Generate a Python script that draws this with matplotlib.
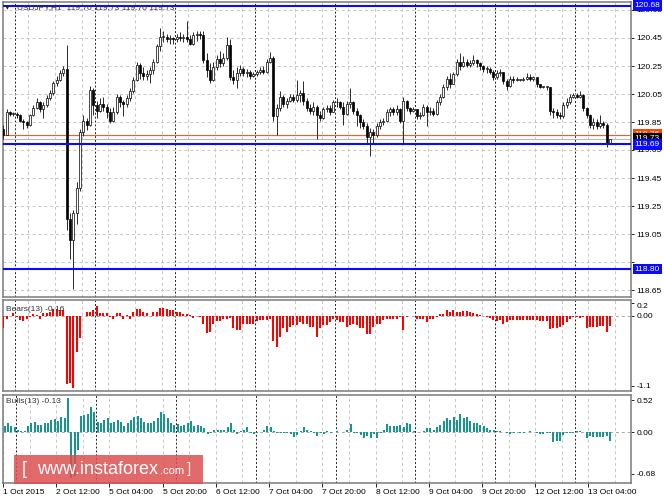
import numpy as np
import matplotlib
matplotlib.use("Agg")
import matplotlib.pyplot as plt
from matplotlib.patches import Rectangle
from matplotlib.transforms import blended_transform_factory

plt.rcParams.update({"font.family": ["Liberation Sans", "DejaVu Sans"], "font.size": 6,
                     "axes.linewidth": 1.1, "axes.edgecolor": "#7a7a7a"})

# ---- data (USDJPY H1, bar 0 = 2 Oct 00:00) ---------------------------------
FIRST_BAR = -4
FIRST_OPEN = 119.80
CLOSE = [119.76, 119.92, 119.91, 119.91, 119.90, 119.86, 119.85, 119.83, 119.90, 119.95,
         119.99, 119.94, 119.97, 120.02, 120.06, 120.13, 120.15, 120.20, 120.23, 119.16,
         119.01, 119.20, 119.38, 119.78, 119.86, 119.83, 120.08, 119.97, 119.93, 119.98,
         119.96, 119.92, 119.86, 119.92, 120.03, 119.99, 119.98, 120.02, 120.07, 120.15,
         120.26, 120.20, 120.18, 120.19, 120.22, 120.28, 120.39, 120.46, 120.46, 120.44,
         120.45, 120.44, 120.46, 120.45, 120.46, 120.44, 120.41, 120.47, 120.48, 120.47,
         120.29, 120.22, 120.15, 120.24, 120.30, 120.27, 120.31, 120.40, 120.17, 120.15,
         120.20, 120.23, 120.20, 120.21, 120.18, 120.19, 120.21, 120.22, 120.21, 120.28,
         120.31, 119.89, 119.95, 120.03, 119.98, 120.00, 120.03, 120.01, 120.04, 120.06,
         120.00, 119.95, 119.93, 119.96, 119.90, 119.88, 119.94, 119.95, 119.92, 119.99,
         119.99, 119.96, 119.91, 119.98, 119.99, 119.93, 119.90, 119.85, 119.82, 119.74,
         119.78, 119.76, 119.82, 119.85, 119.86, 119.92, 119.94, 119.92, 119.94, 119.86,
         120.00, 119.95, 119.93, 119.94, 119.89, 119.90, 119.96, 119.92, 119.93, 119.91,
         119.99, 120.03, 120.10, 120.16, 120.12, 120.19, 120.28, 120.25, 120.28, 120.26,
         120.27, 120.29, 120.27, 120.25, 120.23, 120.23, 120.21, 120.17, 120.20, 120.21,
         120.14, 120.11, 120.16, 120.15, 120.15, 120.15, 120.16, 120.17, 120.16, 120.17,
         120.12, 120.10, 120.10, 120.10, 119.93, 119.92, 119.90, 119.89, 119.97, 119.99,
         120.03, 120.04, 120.03, 120.04, 119.95, 119.90, 119.83, 119.85, 119.82, 119.84,
         119.83, 119.70, 119.73]
HIGH = [119.83, 119.94, 119.93, 119.92, 119.92, 119.91, 119.87, 119.86, 119.91, 119.97,
        120.02, 120.00, 119.99, 120.04, 120.08, 120.14, 120.18, 120.22, 120.25, 120.40,
        119.20, 119.22, 119.42, 119.80, 119.90, 119.88, 120.11, 120.09, 120.00, 120.02,
        120.03, 119.98, 119.95, 119.96, 120.05, 120.04, 120.01, 120.04, 120.09, 120.17,
        120.28, 120.27, 120.24, 120.22, 120.24, 120.30, 120.41, 120.52, 120.50, 120.48,
        120.47, 120.46, 120.48, 120.49, 120.48, 120.57, 120.47, 120.49, 120.50, 120.50,
        120.50, 120.34, 120.27, 120.28, 120.33, 120.36, 120.34, 120.46, 120.44, 120.22,
        120.24, 120.26, 120.24, 120.23, 120.22, 120.21, 120.22, 120.24, 120.25, 120.30,
        120.35, 120.32, 119.98, 120.07, 120.04, 120.02, 120.05, 120.05, 120.15, 120.08,
        120.14, 120.02, 119.98, 119.99, 119.97, 119.93, 119.96, 119.97, 119.97, 120.01,
        120.02, 120.00, 119.99, 120.00, 120.09, 120.00, 119.95, 119.91, 119.87, 119.84,
        119.81, 119.80, 119.84, 119.87, 119.88, 119.94, 119.96, 119.96, 119.97, 119.95,
        120.03, 120.01, 119.96, 119.96, 119.94, 119.92, 119.98, 119.97, 119.96, 119.95,
        120.01, 120.05, 120.12, 120.18, 120.20, 120.21, 120.30, 120.34, 120.32, 120.30,
        120.29, 120.33, 120.30, 120.28, 120.26, 120.25, 120.24, 120.22, 120.22, 120.23,
        120.21, 120.16, 120.18, 120.18, 120.17, 120.16, 120.17, 120.20, 120.19, 120.18,
        120.17, 120.12, 120.11, 120.11, 120.10, 119.95, 119.94, 119.92, 119.99, 120.02,
        120.05, 120.06, 120.06, 120.07, 120.05, 119.96, 119.91, 119.88, 119.87, 119.90,
        119.86, 119.84, 119.73]
LOW = [119.73, 119.76, 119.89, 119.89, 119.88, 119.85, 119.80, 119.81, 119.82, 119.89,
       119.94, 119.92, 119.88, 119.96, 120.01, 120.04, 120.11, 120.14, 120.18, 119.08,
       118.87, 118.66, 119.12, 119.36, 119.75, 119.79, 119.82, 119.90, 119.88, 119.92,
       119.93, 119.88, 119.84, 119.85, 119.91, 119.96, 119.89, 119.96, 120.00, 120.06,
       120.14, 120.16, 120.15, 120.15, 120.13, 120.19, 120.27, 120.36, 120.42, 120.42,
       120.41, 120.41, 120.42, 120.43, 120.42, 120.42, 120.40, 120.40, 120.43, 120.44,
       120.27, 120.17, 120.13, 120.14, 120.22, 120.24, 120.25, 120.29, 120.15, 120.12,
       120.09, 120.18, 120.18, 120.17, 120.16, 120.17, 120.18, 120.19, 120.19, 120.20,
       120.27, 119.86, 119.76, 119.93, 119.96, 119.95, 119.99, 119.99, 119.99, 119.99,
       119.97, 119.93, 119.91, 119.90, 119.73, 119.86, 119.87, 119.92, 119.90, 119.92,
       119.96, 119.94, 119.83, 119.90, 119.95, 119.91, 119.82, 119.81, 119.80, 119.69,
       119.61, 119.70, 119.74, 119.80, 119.83, 119.85, 119.89, 119.90, 119.90, 119.84,
       119.69, 119.93, 119.91, 119.92, 119.87, 119.87, 119.89, 119.82, 119.90, 119.89,
       119.90, 119.97, 120.02, 120.08, 120.09, 120.12, 120.18, 120.22, 120.24, 120.24,
       120.24, 120.26, 120.24, 120.22, 120.21, 120.20, 120.19, 120.15, 120.16, 120.18,
       120.12, 120.08, 120.10, 120.13, 120.14, 120.14, 120.14, 120.15, 120.14, 120.14,
       120.10, 120.09, 120.09, 120.08, 119.90, 119.88, 119.88, 119.87, 119.88, 119.95,
       119.98, 120.02, 120.02, 120.02, 119.93, 119.88, 119.81, 119.80, 119.80, 119.81,
       119.81, 119.67, 119.70]

BEARS = [-0.19, -0.04, 0.00, 0.04, -0.01, -0.06, -0.08, -0.04, -0.01, 0.03,
         0.02, -0.04, 0.04, 0.05, 0.06, 0.11, 0.11, 0.10, 0.09, -1.07,
         -1.06, -1.13, -0.56, -0.35, 0.00, 0.07, 0.07, 0.09, 0.15, 0.04,
         0.04, 0.04, -0.01, -0.04, 0.04, 0.04, -0.05, 0.02, -0.04, 0.07,
         0.11, 0.11, 0.07, 0.04, 0.00, 0.07, 0.07, 0.13, 0.13, 0.11,
         0.09, 0.09, 0.07, 0.07, 0.03, 0.03, 0.02, -0.03, 0.00, -0.01,
         -0.12, -0.27, -0.25, -0.13, -0.08, -0.08, -0.05, -0.05, -0.03, -0.19,
         -0.22, -0.22, -0.12, -0.12, -0.12, -0.12, -0.08, -0.06, -0.06, -0.06,
         -0.04, -0.40, -0.48, -0.33, -0.19, -0.25, -0.17, -0.14, -0.14, -0.09,
         -0.12, -0.12, -0.17, -0.17, -0.33, -0.19, -0.14, -0.14, -0.09, -0.04,
         -0.06, -0.09, -0.09, -0.17, -0.14, -0.12, -0.14, -0.19, -0.19, -0.29,
         -0.29, -0.17, -0.12, -0.12, -0.06, -0.04, -0.04, -0.04, -0.04, -0.01,
         -0.22, -0.01, 0.00, 0.00, -0.05, -0.05, -0.04, -0.09, -0.04, -0.05,
         -0.01, 0.03, 0.03, 0.09, 0.07, 0.09, 0.07, 0.07, 0.08, 0.08,
         0.07, 0.04, 0.03, 0.02, 0.00, -0.01, -0.03, -0.06, -0.08, -0.06,
         -0.13, -0.09, -0.06, -0.06, -0.06, -0.06, -0.06, -0.06, -0.06, -0.06,
         -0.06, -0.08, -0.08, -0.08, -0.21, -0.19, -0.19, -0.17, -0.14, -0.09,
         -0.05, -0.01, -0.01, -0.03, -0.01, -0.19, -0.18, -0.17, -0.17, -0.15,
         -0.15, -0.25, -0.16]
BULLS = [0.10, 0.14, 0.09, 0.08, 0.04, 0.02, 0.01, 0.10, 0.14, 0.17,
         0.11, 0.11, 0.14, 0.14, 0.20, 0.21, 0.18, 0.24, 0.22, 0.55,
         -0.74, -0.72, -0.29, 0.26, 0.28, 0.30, 0.40, 0.33, 0.17, 0.14,
         0.20, 0.22, 0.14, 0.17, 0.20, 0.17, 0.09, 0.14, 0.20, 0.24,
         0.26, 0.22, 0.17, 0.14, 0.15, 0.18, 0.22, 0.33, 0.30, 0.22,
         0.14, 0.11, 0.13, 0.10, 0.11, 0.14, 0.18, 0.09, 0.11, 0.10,
         0.06, -0.03, -0.01, 0.03, 0.04, 0.03, 0.03, 0.08, 0.14, 0.04,
         -0.03, 0.01, 0.04, 0.08, -0.01, -0.03, -0.01, 0.00, 0.04, 0.09,
         0.08, 0.01, -0.01, -0.01, -0.01, -0.01, -0.03, -0.08, -0.05, 0.01,
         0.08, 0.04, 0.01, -0.01, -0.06, -0.02, -0.03, 0.01, -0.01, 0.00,
         0.01, 0.005, 0.005, 0.03, 0.13, -0.01, -0.02, -0.05, -0.09, -0.065,
         -0.09, -0.03, -0.10, -0.01, 0.03, 0.13, 0.10, 0.10, 0.09, 0.11,
         0.08, 0.14, 0.13, 0.01, 0.00, 0.005, 0.02, 0.06, 0.06, 0.04,
         0.08, 0.11, 0.18, 0.22, 0.20, 0.24, 0.20, 0.29, 0.22, 0.24,
         0.18, 0.15, 0.14, 0.11, 0.09, 0.06, 0.04, 0.03, 0.02, 0.01,
         0.00, -0.02, -0.04, -0.01, 0.005, -0.01, -0.01, 0.00, 0.02, 0.00,
         -0.01, -0.03, -0.03, -0.02, -0.02, -0.16, -0.14, -0.14, -0.05, -0.02,
         -0.01, -0.01, 0.02, 0.02, 0.00, -0.09, -0.07, -0.08, -0.08, -0.08,
         -0.08, -0.07, -0.15]

TIME_LABELS = ["1 Oct 2015", "2 Oct 12:00", "5 Oct 04:00", "5 Oct 20:00", "6 Oct 12:00",
               "7 Oct 04:00", "7 Oct 20:00", "8 Oct 12:00", "9 Oct 04:00", "9 Oct 20:00",
               "12 Oct 12:00", "13 Oct 04:00"]
LABEL_BARS = [-4, 12, 28, 44, 60, 76, 92, 108, 124, 140, 156, 172]
DAY_START_BARS = [0, 24, 48, 72, 96, 120, 144, 168]
PRICE_TICKS = [118.65, 118.85, 119.05, 119.25, 119.45, 119.65, 119.85, 120.05, 120.25, 120.45, 120.65]
HIDDEN_TICKS = [118.85]
BLUE_LEVELS = [120.68, 119.69, 118.80]
ASK, BID = 119.76, 119.73
TITLE = "USDJPY,H1  119.70 119.73 119.70 119.73"

assert len(CLOSE) == len(HIGH) == len(LOW) == len(BEARS) == len(BULLS)

# ---- layout, in screen pixels ------------------------------------------------
W, H = 664, 498
LEFT, RIGHT = 3, 631
BAR_PX, BAR0_PX = 3.333, 16.7
fig = plt.figure(figsize=(W / 100, H / 100), dpi=100)


def px_axes(top, bottom):
    return fig.add_axes([LEFT / W, 1 - bottom / H, (RIGHT - LEFT) / W, (bottom - top) / H])


ax = px_axes(2, 297)
axb = px_axes(300, 391)
axu = px_axes(395, 483)

xlim = ((LEFT - BAR0_PX) / BAR_PX, (RIGHT - BAR0_PX) / BAR_PX)
ax.set_ylim(120.45 - (297 - 38) / 140, 120.45 + (38 - 2) / 140)
axb.set_ylim(-(391 - 316) / 63.6, (316 - 300) / 63.6)
axu.set_ylim(-(483 - 432) / 61.5, (432 - 395) / 61.5)

LIGHT = dict(color="#c4c4c4", lw=0.7, ls=(0, (3, 3)), zorder=0)
DARK = dict(color="#222222", lw=0.7, ls=(0, (2, 2)), zorder=0)
for a in (ax, axb, axu):
    a.set_xlim(*xlim)
    a.set_facecolor("white")
    for b in np.arange(LABEL_BARS[0], xlim[1] + 8, 8):
        a.axvline(b - 0.5, **LIGHT)
    for b in DAY_START_BARS:
        a.axvline(b - 0.5, **DARK)
    a.yaxis.tick_right()
    a.tick_params(axis="y", length=2.5, width=0.6, pad=1.5, labelsize=6, colors="black")
    a.tick_params(axis="x", bottom=False, labelbottom=False)

# ---- candles -------------------------------------------------------------------
bars = np.arange(FIRST_BAR, FIRST_BAR + len(CLOSE))
c = np.array(CLOSE)
o = np.r_[FIRST_OPEN, c[:-1]]
h = np.maximum(np.array(HIGH), np.maximum(o, c))
l = np.minimum(np.array(LOW), np.minimum(o, c))
bottom = np.minimum(o, c)
height = np.maximum(np.abs(c - o), 0.005)
up = c >= o

for p in PRICE_TICKS:
    ax.axhline(p, **LIGHT)
ax.vlines(bars, l, h, color="#2a2a2a", lw=0.7, zorder=3)
ax.bar(bars[up], height[up], bottom=bottom[up], width=0.62, color="white",
       edgecolor="black", lw=0.5, zorder=4)
ax.bar(bars[~up], height[~up], bottom=bottom[~up], width=0.62, color="black",
       edgecolor="black", lw=0.5, zorder=4)

ax.axhline(ASK, color="#ff5a1e", lw=0.8, zorder=2)
ax.axhline(BID, color="#b8b8b8", lw=0.8, zorder=2)
for p in BLUE_LEVELS:
    ax.axhline(p, color="#0a0aff", lw=1.5, zorder=5)

ax.set_yticks(PRICE_TICKS)
ax.set_yticklabels(["" if p in HIDDEN_TICKS else f"{p:.2f}" for p in PRICE_TICKS])

tr = blended_transform_factory(ax.transAxes, ax.transData)
boxes = [(ASK, "#ff4500"), (BID, "black")] + [(p, "#0a0aff") for p in BLUE_LEVELS]
for z, (p, fc) in enumerate(boxes):
    ax.text(1.006, p, f"{p:.2f}", transform=tr, ha="left", va="center", color="white",
            fontsize=6, clip_on=False, zorder=20 + z,
            bbox=dict(boxstyle="square,pad=0.22", fc=fc, ec="none"))

# ---- Bears / Bulls power -------------------------------------------------------
axb.axhline(0, color="#a8a8a8", lw=0.7, ls=(0, (3, 3)), zorder=1)
axb.bar(bars, BEARS, width=0.6, color="#ff0000", lw=0, zorder=3)
axb.set_yticks([0.2, 0.0, -1.1])
axb.set_yticklabels(["0.2", "0.00", "-1.1"])
axb.get_yticklabels()[0].set_va("top")

axu.axhline(0, color="#a8a8a8", lw=0.7, ls=(0, (3, 3)), zorder=1)
axu.bar(bars, BULLS, width=0.6, color="#16968d", lw=0, zorder=3)
axu.set_yticks([0.52, 0.0, -0.68])
axu.set_yticklabels(["0.52", "0.00", "-0.68"])

axu.set_xticks(np.array(LABEL_BARS) - 0.5)
axu.set_xticklabels(TIME_LABELS)
axu.tick_params(axis="x", bottom=True, labelbottom=True, length=3, width=0.6,
                pad=1.5, labelsize=6, colors="black")
for t in axu.get_xticklabels():
    t.set_ha("left")

# ---- captions ------------------------------------------------------------------
fig.text(5 / W, 1 - 8 / H, "\u25bc", fontsize=4.5, color="#222", va="center",
         family=["DejaVu Sans"])
fig.text(17 / W, 1 - 8 / H, TITLE, fontsize=6, color="#333", va="center")
fig.text(6 / W, 1 - 309 / H, "Bears(13) -0.16", fontsize=6, color="#333", va="center")
fig.text(6 / W, 1 - 401 / H, "Bulls(13) -0.13", fontsize=6, color="#333", va="center")

# instaforex watermark
fig.add_artist(Rectangle((14 / W, 1 - 484 / H), 189 / W, 29 / H, transform=fig.transFigure,
                         fc="#dc5050", ec="none", alpha=0.85, zorder=30))
wm = dict(color="white", va="center", zorder=31)
fig.text(22 / W, 1 - 469 / H, "[", fontsize=13, **wm)
fig.text(37 / W, 1 - 469 / H, "www.instaforex", fontsize=13, **wm)
fig.text(160 / W, 1 - 471 / H, ".com", fontsize=8, **wm)
fig.text(187 / W, 1 - 469 / H, "]", fontsize=11, **wm)

fig.savefig("out.png", dpi=100)
